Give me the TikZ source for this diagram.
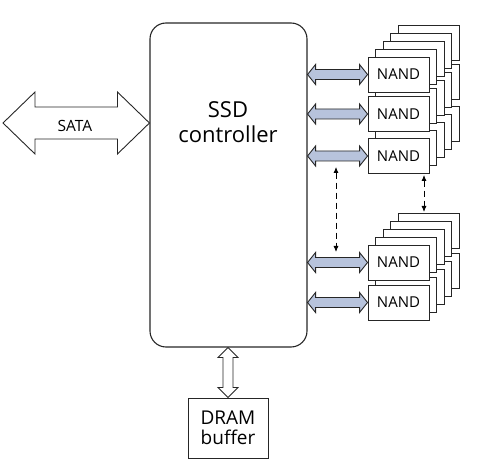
\documentclass[tikz,border=0pt]{standalone}
\usepackage{fontspec}
\setmainfont{Open Sans}
\usetikzlibrary{calc,arrows.meta}
\definecolor{arrowblue}{HTML}{B7C3DC}
\definecolor{linegray}{HTML}{262626}
% horizontal fat double arrow: style, left point, right point, head length, head half width, shaft half width
\newcommand\myfatH[6]{%
  \draw[#1] (#2) -- ($(#2)+(#4,-#5)$) -- ($(#2)+(#4,-#6)$) -- ($(#3)+(-#4,-#6)$) -- ($(#3)+(-#4,-#5)$) -- (#3)
    -- ($(#3)+(-#4,#5)$) -- ($(#3)+(-#4,#6)$) -- ($(#2)+(#4,#6)$) -- ($(#2)+(#4,#5)$) -- cycle;}
% vertical fat double arrow: style, top point, bottom point, head length, head half width, shaft half width
\newcommand\myfatV[6]{%
  \draw[#1] (#2) -- ($(#2)+(#5,#4)$) -- ($(#2)+(#6,#4)$) -- ($(#3)+(#6,-#4)$) -- ($(#3)+(#5,-#4)$) -- (#3)
    -- ($(#3)+(-#5,-#4)$) -- ($(#3)+(-#6,-#4)$) -- ($(#2)+(-#6,#4)$) -- ($(#2)+(-#5,#4)$) -- cycle;}
\tikzset{
  ctrlbox/.style={draw=linegray, line width=1.1pt, rounded corners=16pt, minimum width=157pt, minimum height=324pt, inner sep=0pt},
  titletxt/.style={font=\fontsize{22}{25}\selectfont, align=center, inner sep=0pt},
  nandbox/.style={draw=linegray, fill=white, line width=0.9pt, minimum width=61pt, minimum height=35pt, inner sep=0pt, font=\fontsize{15}{17}\selectfont},
  nandback/.style={nandbox},
  drambox/.style={draw=linegray, fill=white, line width=0.9pt, minimum width=80pt, minimum height=60pt, inner sep=0pt, align=center, font=\fontsize{19}{20}\selectfont},
  satatxt/.style={font=\fontsize{15.5}{17}\selectfont, inner sep=0pt},
  fatblue/.style={draw=linegray, fill=arrowblue, line width=0.9pt, line join=miter},
  fatwhite/.style={draw=linegray, fill=white, line width=0.9pt, line join=miter},
  dasharrow/.style={draw=black, line width=0.8pt, dash pattern=on 6pt off 4pt, {Latex[length=6pt,width=5pt]}-{Latex[length=6pt,width=5pt]}}
}
\begin{document}
\begin{tikzpicture}[x=1pt,y=-1pt]
\useasboundingbox (0,0) rectangle (480,470);
% controller
\node[ctrlbox] (ctrl) at (228.5,185) {};
\node[titletxt] (ctrltxt) at (228,122) {SSD\\controller};
% NAND stacks: back layers
\foreach \k in {4,3,2,1}{
  \foreach \r/\y in {1/74.5,2/114,3/156,4/262.5,5/302.5}{
    \node[nandback] (r\r l\k) at ({398.5+7.5*\k},{\y-8*\k}) {};
  }
}
% front NAND boxes
\foreach \r/\y in {1/74.5,2/114,3/156,4/262.5,5/302.5}{
  \node[nandbox] (f\r) at (398.5,\y) {NAND};
  \coordinate (a\r) at (ctrl.east |- f\r.west);
}
\foreach \r in {1,...,5}{
  \myfatH{fatblue}{a\r}{f\r.west}{8}{10}{5}
}
% SATA
\coordinate (sataL) at (3,123);
\coordinate (sataR) at (ctrl.west |- sataL);
\myfatH{fatwhite}{sataL}{sataR}{32}{31}{16}
\node[satatxt] (satalbl) at (75,126) {SATA};
% DRAM
\node[drambox] (dram) at (228,428) {DRAM\\buffer};
\coordinate (dtop) at (ctrl.south -| dram.north);
\myfatV{fatwhite}{dtop}{dram.north}{10}{10}{5}
% dashed arrows
\coordinate (dA1) at (336,167);
\coordinate (dA2) at (336,252);
\draw[dasharrow] (dA1) -- (dA2);
\coordinate (dB1) at (424,175);
\coordinate (dB2) at (424,212);
\draw[dasharrow] (dB1) -- (dB2);
\end{tikzpicture}
\end{document}
